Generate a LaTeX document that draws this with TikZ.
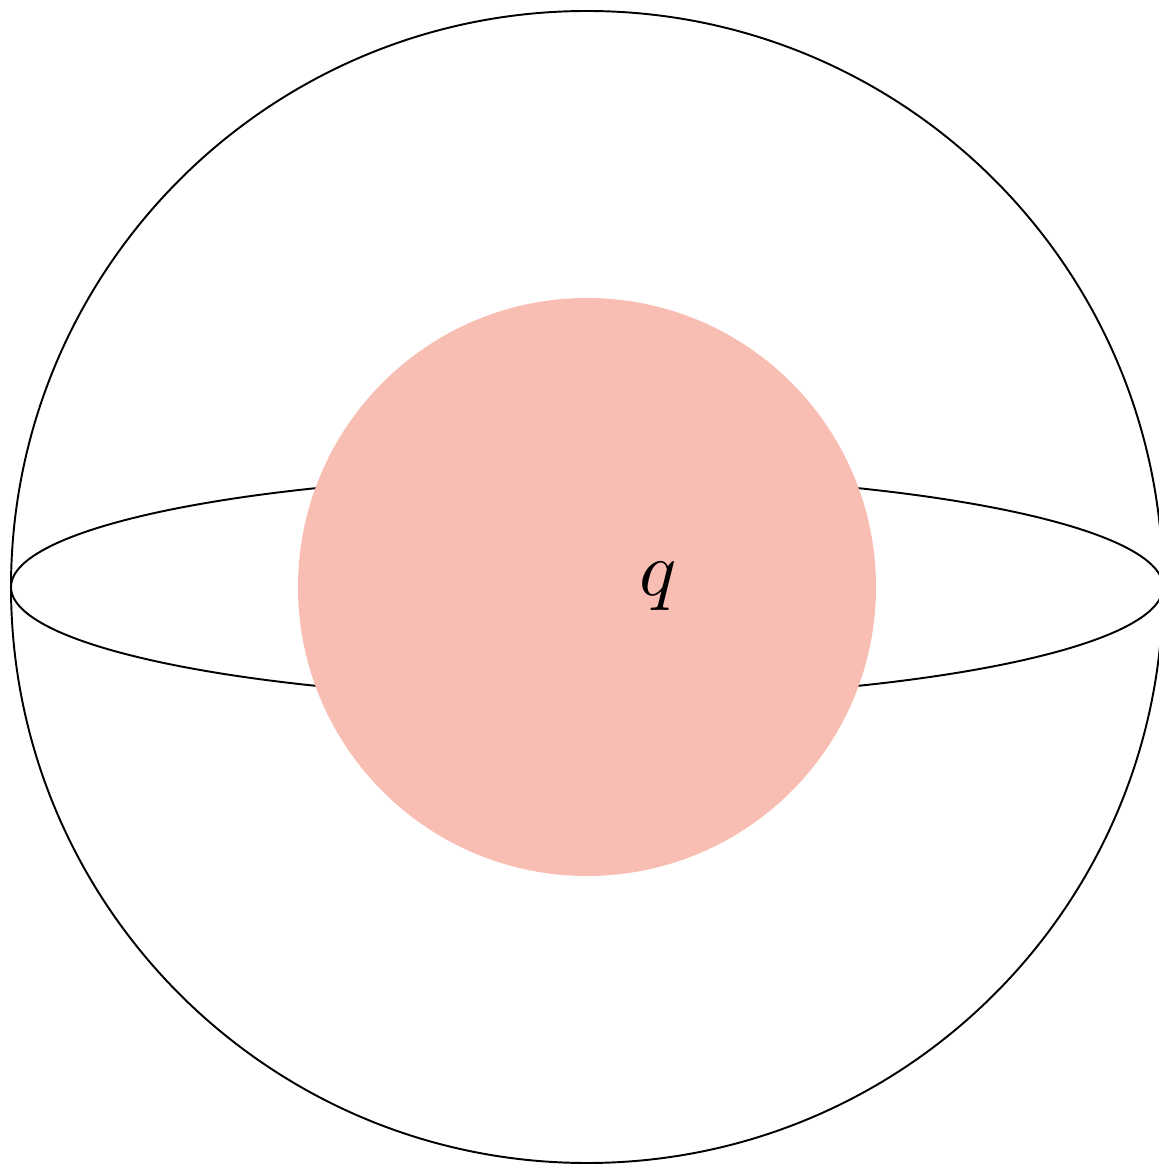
\documentclass[tikz,border=0pt]{standalone}
\definecolor{pinkfill}{HTML}{F9BEB3}
\begin{document}
\begin{tikzpicture}[x=0.02cm,y=0.02cm,
  outline/.style={draw=black,line width=1.1pt},
  ball/.style={fill=pinkfill,draw=none}]
\useasboundingbox (0,0) rectangle (1159,1164);
\begin{scope}
\clip (0,0) rectangle (1159,1164);
\coordinate (c) at (587,577);
\draw[outline] (c) circle (576);
\draw[outline] (c) ellipse [x radius=576, y radius=112];
\fill[ball] (c) circle (289);
\node[scale=4.4, inner sep=0pt] (q) at (658,578) {$q$};
\end{scope}
\end{tikzpicture}
\end{document}
